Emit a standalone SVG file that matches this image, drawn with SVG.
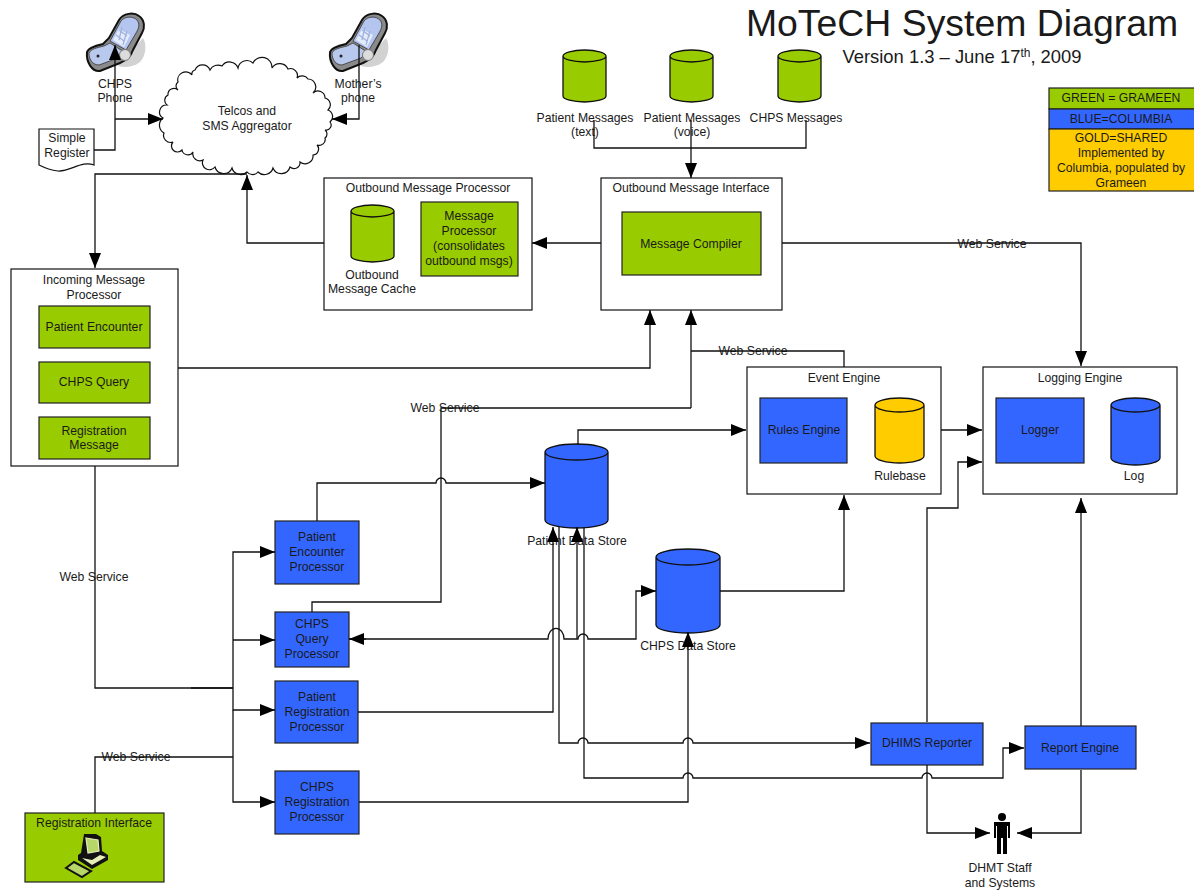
<svg xmlns="http://www.w3.org/2000/svg" xmlns:xlink="http://www.w3.org/1999/xlink" width="1194" height="890" viewBox="0 0 1194 890">
<style>
text{font-family:"Liberation Sans",Arial,sans-serif;font-size:12.2px;fill:#1a1a1a;text-anchor:middle}
.g{fill:#99cc00;stroke:#222;stroke-width:1.2}
.b{fill:#3366ff;stroke:#222;stroke-width:1.2}
.y{fill:#ffcc00;stroke:#222;stroke-width:1.2}
.w{fill:#fff;stroke:#111;stroke-width:1.2}
.c{fill:none;stroke:#111;stroke-width:1.3;stroke-linejoin:miter}
.can{stroke:#111;stroke-width:1.3}
</style>
<defs>
<marker id="a" markerUnits="userSpaceOnUse" markerWidth="16" markerHeight="12" refX="15" refY="6" orient="auto"><path d="M0,0L15,6L0,12Z" fill="#000"/></marker>
<g id="phone">
<path d="M118,66L130,52L143,38C147,44 146,56 140,62C134,67 124,68 118,66Z" fill="#d2d2d2"/>
<path d="M87,52C88,48 94,46 103,44L109,38L119,20C123,13 134,12 139,16C145,20 145,28 142,33L133,50C131,56 127,60 120,63L100,71C92,72 86,62 87,52Z" fill="#8a8a8a" stroke="#111" stroke-width="2"/>
<path d="M89,53C91,49 96,48 104,46L110,43L124,52L118,58L99,65C93,65 89,60 89,53Z" fill="#b9c9ee" stroke="#333" stroke-width=".8"/>
<path d="M110,41L121,21C125,16 133,16 137,20C140,24 139,28 136,33L126,50Z" fill="#b4c6f0" stroke="#333" stroke-width=".8"/>
<path d="M113,40L119,29L130,35L124,47Z" fill="#e4ebfa"/>
<path d="M119,30L127,36M116,35L124,41M122,27L119,40M127,31L123,45" stroke="#9fb2de" stroke-width="1.3" fill="none"/>
<circle cx="125" cy="55" r="5.5" fill="#dcdcdc" stroke="#777"/>
<circle cx="98" cy="56" r="1.5" fill="#222"/>
</g>
</defs>

<g id="title">
<text x="962" y="36" style="font-size:37.4px">MoTeCH System Diagram</text>
<text x="962" y="63" style="font-size:18.4px">Version 1.3 – June 17<tspan dy="-6" style="font-size:12px">th</tspan><tspan dy="6">, 2009</tspan></text>
</g>

<g id="web-service-labels">
<text x="992" y="248">Web Service</text>
<text x="753" y="355">Web Service</text>
<text x="445" y="412">Web Service</text>
<text x="94" y="581">Web Service</text>
<text x="136" y="761">Web Service</text>
</g>

<g id="chps-phone"><use href="#phone"/><text x="115" y="88">CHPS</text><text x="115" y="102">Phone</text></g>
<g id="mothers-phone"><use href="#phone" x="243"/><text x="358" y="88">Mother’s</text><text x="358" y="102">phone</text></g>
<g id="simple-register">
<path d="M39,129H94V165C82,160 70,172 58,171C50,170 45,168 39,165Z" class="w"/>
<text x="67" y="142">Simple</text><text x="67" y="157">Register</text>
</g>
<g id="telcos">
<path class="w" d="M210,70A9,9 0 0 1 222,66A9,9 0 0 1 238,68A9,9 0 0 1 253,63A10,10 0 0 1 272,68A9,9 0 0 1 288,69A7,7 0 0 1 297,78A7,7 0 0 1 308,79A8,8 0 0 1 313,93A7,7 0 0 1 325,98A7,7 0 0 1 328,110A7,7 0 0 1 330,122A5,5 0 0 1 325,130A5,5 0 0 1 325,138A6,6 0 0 1 317,145A6,6 0 0 1 313,155A8,8 0 0 1 300,162A6,6 0 0 1 290,167A9,9 0 0 1 273,168A9,9 0 0 1 258,172A7,7 0 0 1 247,172A9,9 0 0 1 232,168A9,9 0 0 1 215,167A7,7 0 0 1 203,160A7,7 0 0 1 193,152A6,6 0 0 1 182,150A6,6 0 0 1 173,142A7,7 0 0 1 164,133A9,9 0 0 1 163,118A7,7 0 0 1 167,105A6,6 0 0 1 168,95A6,6 0 0 1 178,90A5,5 0 0 1 178,82A8,8 0 0 1 192,75A4,4 0 0 1 195,70A8,8 0 0 1 210,70Z"/>
<text x="247" y="115">Telcos and</text><text x="247" y="130">SMS Aggregator</text>
</g>

<g id="patient-messages-text">
<path class="g can" d="M563,56V96A21.5,6 0 0 0 606,96V56A21.5,6 0 0 0 563,56A21.5,6 0 0 0 606,56"/>
<text x="585" y="122">Patient Messages</text><text x="585" y="136">(text)</text>
</g>
<g id="patient-messages-voice">
<path class="g can" d="M670,56V96A21.5,6 0 0 0 713,96V56A21.5,6 0 0 0 670,56A21.5,6 0 0 0 713,56"/>
<text x="692" y="122">Patient Messages</text><text x="692" y="136">(voice)</text>
</g>
<g id="chps-messages">
<path class="g can" d="M778,56V96A21.5,6 0 0 0 821,96V56A21.5,6 0 0 0 778,56A21.5,6 0 0 0 821,56"/>
<text x="796" y="122">CHPS Messages</text>
</g>

<g id="legend">
<rect x="1049" y="88" width="146" height="21" class="g"/>
<rect x="1049" y="109" width="146" height="20" class="b"/>
<rect x="1049" y="129" width="146" height="62" class="y"/>
<text x="1121" y="102">GREEN = GRAMEEN</text>
<text x="1121" y="123">BLUE=COLUMBIA</text>
<text x="1121" y="142">GOLD=SHARED</text>
<text x="1121" y="157">Implemented by</text>
<text x="1121" y="172">Columbia, populated by</text>
<text x="1121" y="187">Grameen</text>
</g>

<g id="outbound-message-processor">
<rect x="324" y="178" width="208" height="132" class="w"/>
<text x="428" y="192">Outbound Message Processor</text>
<path class="g can" d="M351,211V256A21.5,6 0 0 0 394,256V211A21.5,6 0 0 0 351,211A21.5,6 0 0 0 394,211"/>
<text x="372" y="279">Outbound</text><text x="372" y="293">Message Cache</text>
<rect x="421" y="202" width="97" height="74" class="g"/>
<text x="469" y="220">Message</text><text x="469" y="235">Processor</text><text x="469" y="250">(consolidates</text><text x="469" y="265">outbound msgs)</text>
</g>
<g id="outbound-message-interface">
<rect x="601" y="178" width="181" height="132" class="w"/>
<text x="691" y="192">Outbound Message Interface</text>
<rect x="622" y="212" width="139" height="63" class="g"/>
<text x="691" y="248">Message Compiler</text>
</g>
<g id="incoming-message-processor">
<rect x="11" y="269" width="167" height="197" class="w"/>
<text x="94" y="284">Incoming Message</text><text x="94" y="299">Processor</text>
<rect x="39" y="306" width="111" height="42" class="g"/><text x="94" y="331">Patient Encounter</text>
<rect x="39" y="362" width="111" height="41" class="g"/><text x="94" y="386">CHPS Query</text>
<rect x="39" y="417" width="111" height="42" class="g"/><text x="94" y="435">Registration</text><text x="94" y="449">Message</text>
</g>
<g id="event-engine">
<rect x="747" y="367" width="194" height="127" class="w"/>
<text x="844" y="382">Event Engine</text>
<rect x="760" y="398" width="87" height="65" class="b"/><text x="804" y="434">Rules Engine</text>
<path class="y can" d="M875,405V456A24.5,7 0 0 0 924,456V405A24.5,7 0 0 0 875,405A24.5,7 0 0 0 924,405"/>
<text x="900" y="480">Rulebase</text>
</g>
<g id="logging-engine">
<rect x="983" y="367" width="194" height="127" class="w"/>
<text x="1080" y="382">Logging Engine</text>
<rect x="996" y="398" width="88" height="65" class="b"/><text x="1040" y="434">Logger</text>
<path class="b can" d="M1111,405V458A24.5,7 0 0 0 1160,458V405A24.5,7 0 0 0 1111,405A24.5,7 0 0 0 1160,405"/>
<text x="1134" y="480">Log</text>
</g>
<g id="patient-data-store">
<path class="b can" d="M545,452V520A31.5,8 0 0 0 608,520V452A31.5,8 0 0 0 545,452A31.5,8 0 0 0 608,452"/>
<text x="577" y="545">Patient Data Store</text>
</g>
<g id="chps-data-store">
<path class="b can" d="M656,557V625A32,8 0 0 0 720,625V557A32,8 0 0 0 656,557A32,8 0 0 0 720,557"/>
<text x="688" y="650">CHPS Data Store</text>
</g>
<g id="patient-encounter-processor">
<rect x="275" y="521" width="84" height="63" class="b"/>
<text x="317" y="541">Patient</text><text x="317" y="556">Encounter</text><text x="317" y="571">Processor</text>
</g>
<g id="chps-query-processor">
<rect x="275" y="612" width="74" height="55" class="b"/>
<text x="312" y="628">CHPS</text><text x="312" y="643">Query</text><text x="312" y="658">Processor</text>
</g>
<g id="patient-registration-processor">
<rect x="275" y="681" width="83" height="62" class="b"/>
<text x="317" y="701">Patient</text><text x="317" y="716">Registration</text><text x="317" y="731">Processor</text>
</g>
<g id="chps-registration-processor">
<rect x="275" y="771" width="84" height="63" class="b"/>
<text x="317" y="791">CHPS</text><text x="317" y="806">Registration</text><text x="317" y="821">Processor</text>
</g>
<g id="dhims-reporter">
<rect x="871" y="723" width="112" height="42" class="b"/><text x="927" y="747">DHIMS Reporter</text>
</g>
<g id="report-engine">
<rect x="1025" y="726" width="111" height="43" class="b"/><text x="1080" y="752">Report Engine</text>
</g>
<g id="dhmt-staff">
<circle cx="1002" cy="817" r="4" fill="#000"/>
<path d="M994,822H1010V838H1008V826H1007V854H1003V838H1001V854H997V826H996V838H994Z" fill="#000"/>
<text x="1000" y="872">DHMT Staff</text><text x="1000" y="887">and Systems</text>
</g>
<g id="registration-interface">
<rect x="25" y="813" width="139" height="69" class="g"/>
<text x="94" y="827">Registration Interface</text>
<path d="M84,834H96L101,837L102,851L108,855V860L92,869L78,860V855L81,853Z" fill="#111"/>
<path d="M86,838L98,840L99,851L88,853Z" fill="#b6d66a" stroke="#e6efb8" stroke-width="1.2"/>
<path d="M82,858L92,865L106,857L100,855L92,860Z" fill="#e6efb8"/>
<path d="M66,868L74,862L91,871L82,877Z" fill="#b6d66a" stroke="#111" stroke-width="2"/>
</g>

<g id="connectors">
<path class="c" d="M94,150H115V45" marker-end="url(#a)"/>
<path class="c" d="M115,119H163" marker-end="url(#a)"/>
<path class="c" d="M359,45V119H332" marker-end="url(#a)"/>
<path class="c" d="M324,243H247V175" marker-end="url(#a)"/>
<path class="c" d="M247,174H95V268" marker-end="url(#a)"/>
<path class="c" d="M601,243H532" marker-end="url(#a)"/>
<path class="c" d="M594,120V148H806V120"/>
<path class="c" d="M691,120V178" marker-end="url(#a)"/>
<path class="c" d="M782,243H1081V366" marker-end="url(#a)"/>
<path class="c" d="M178,368H650V310" marker-end="url(#a)"/>
<path class="c" d="M844,367V351H691"/>
<path class="c" d="M691,408V310" marker-end="url(#a)"/>
<path class="c" d="M691,408H441V602H312V612"/>
<path class="c" d="M578,445V430H746" marker-end="url(#a)"/>
<path class="c" d="M317,521V483H436a5,5 0 0 1 10,0H545" marker-end="url(#a)"/>
<path class="c" d="M941,430H982" marker-end="url(#a)"/>
<path class="c" d="M720,591H844V495" marker-end="url(#a)"/>
<path class="c" d="M927,722V508H958V462H982" marker-end="url(#a)"/>
<path class="c" d="M1081,726V498" marker-end="url(#a)"/>
<path class="c" d="M1081,770V833H1017" marker-end="url(#a)"/>
<path class="c" d="M927,765V833H990" marker-end="url(#a)"/>
<path class="c" d="M95,466V688H233"/>
<path class="c" d="M191,688H233" stroke-width="2"/>
<path class="c" d="M233,688V552H275" marker-end="url(#a)"/>
<path class="c" d="M233,640H275" marker-end="url(#a)"/>
<path class="c" d="M233,688V710H275" marker-end="url(#a)"/>
<path class="c" d="M233,710V802H275" marker-end="url(#a)"/>
<path class="c" d="M95,813V757H233"/>
<path class="c" d="M358,712H553V527" marker-end="url(#a)"/>
<path class="c" d="M577,639V527" marker-end="url(#a)"/>
<path class="c" d="M349,639H548a6,8 0 0 1 16,0H578a5,5 0 0 1 10,0H636V591H656" marker-end="url(#a)"/>
<path class="c" d="M366,639H349" marker-end="url(#a)"/>
<path class="c" d="M559,527V743H578a5,5 0 0 1 10,0H683a5,5 0 0 1 10,0H870" marker-end="url(#a)"/>
<path class="c" d="M584,527V778H683a5,5 0 0 1 10,0H922a5,5 0 0 1 10,0H1003V748H1024" marker-end="url(#a)"/>
<path class="c" d="M359,802H688V632" marker-end="url(#a)"/>
</g>
</svg>
